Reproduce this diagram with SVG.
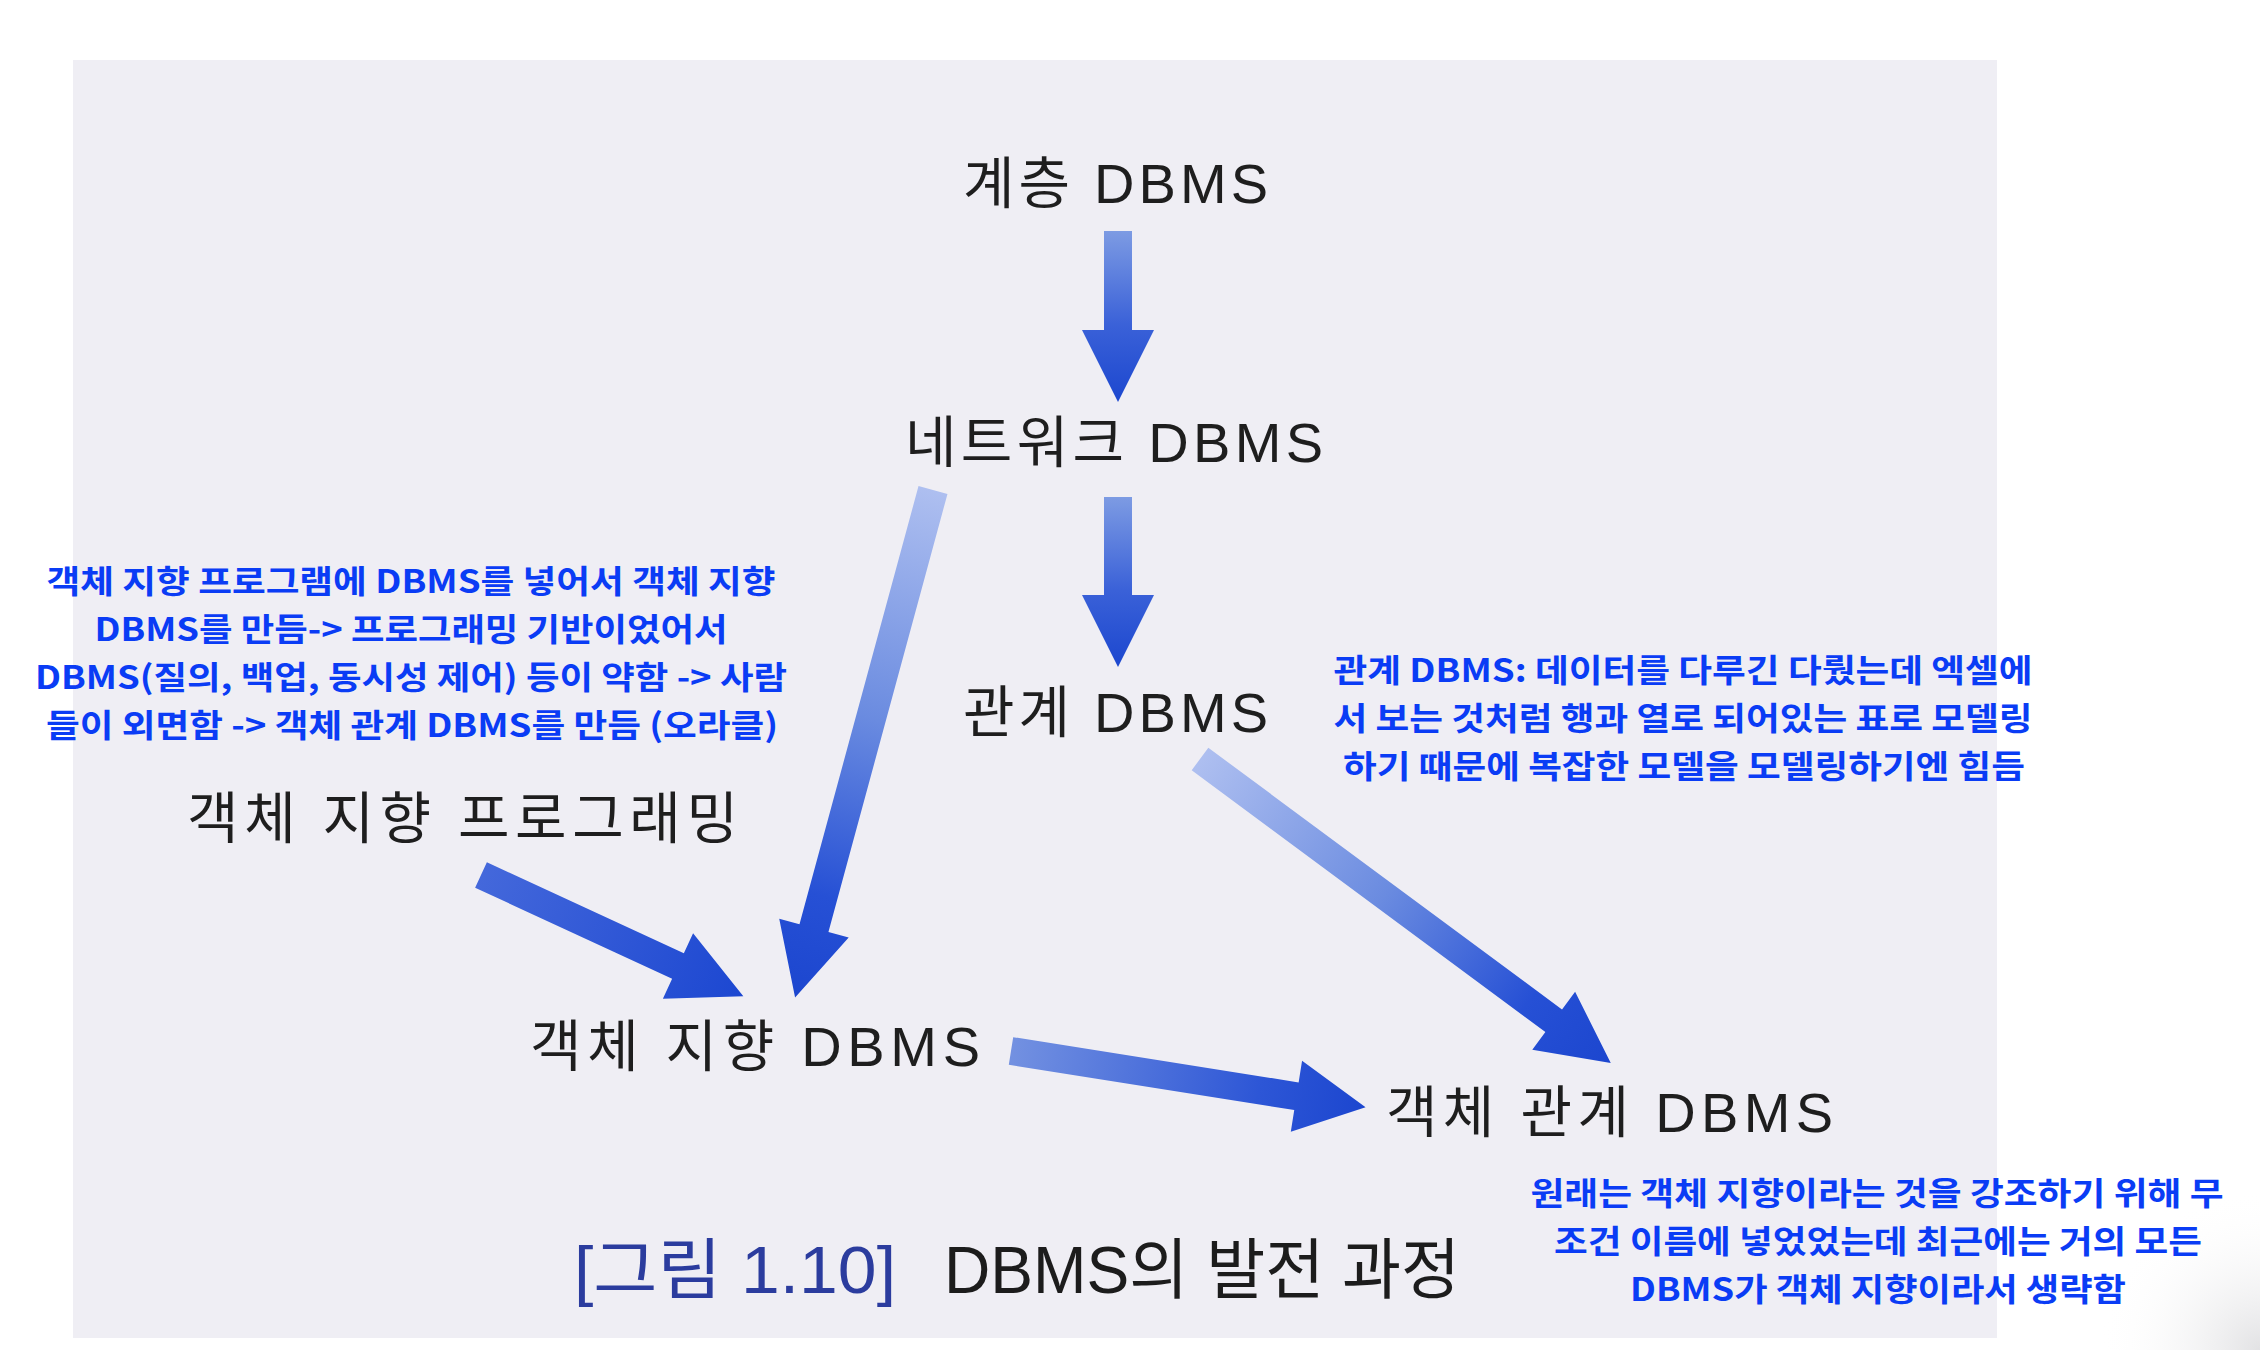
<svg xmlns="http://www.w3.org/2000/svg" width="2260" height="1350" viewBox="0 0 2260 1350">
  <defs>
    <style>
      .node { font-family: 'Liberation Sans', 'Noto Sans CJK KR', sans-serif; font-size: 56px; fill: #1e1e1e; }
      .note { font-family: 'Noto Sans CJK KR', sans-serif; font-weight: 700; font-size: 32px; fill: #0a3cf5; text-anchor: middle; }
      .cap { font-family: 'Liberation Sans', 'Noto Sans CJK KR', sans-serif; font-size: 66px; }
    </style>
    <linearGradient id="gV" x1="0" y1="0" x2="1" y2="0">
      <stop offset="0" stop-color="#7d9be3"/>
      <stop offset="0.55" stop-color="#3a61d8"/>
      <stop offset="1" stop-color="#1c47cf"/>
    </linearGradient>
    <linearGradient id="gLong" x1="0" y1="0" x2="1" y2="0">
      <stop offset="0" stop-color="#aebff0"/>
      <stop offset="0.45" stop-color="#6a8be0"/>
      <stop offset="0.8" stop-color="#2650d5"/>
      <stop offset="1" stop-color="#1c46cf"/>
    </linearGradient>
    <linearGradient id="gProg" x1="0" y1="0" x2="1" y2="0">
      <stop offset="0" stop-color="#4468db"/>
      <stop offset="1" stop-color="#1c47d1"/>
    </linearGradient>
    <linearGradient id="gOO" x1="0" y1="0" x2="1" y2="0">
      <stop offset="0" stop-color="#7391e1"/>
      <stop offset="0.7" stop-color="#2d56d6"/>
      <stop offset="1" stop-color="#1c46cf"/>
    </linearGradient>
    <radialGradient id="corner" cx="2260" cy="1350" r="160" gradientUnits="userSpaceOnUse">
      <stop offset="0" stop-color="#e2e2e4"/>
      <stop offset="1" stop-color="#ffffff" stop-opacity="0"/>
    </radialGradient>
  </defs>

  <rect x="0" y="0" width="2260" height="1350" fill="#ffffff"/>
  <rect x="2060" y="1150" width="200" height="200" fill="url(#corner)"/>
  <rect x="73" y="60" width="1924" height="1278" fill="#efeef4"/>

  <g id="connectors">
    <path d="M0,-14 H99 V-36 L171,0 L99,36 V14 H0 Z" fill="url(#gV)" transform="translate(1118,231) rotate(90)"/>
    <path d="M0,-14 H98 V-36 L170,0 L98,36 V14 H0 Z" fill="url(#gV)" transform="translate(1118,497) rotate(90)"/>
    <path d="M0,-15 H454 V-36 L526,0 L454,36 V15 H0 Z" fill="url(#gLong)" transform="translate(933,490) rotate(105.2)"/>
    <path d="M0,-14 H217 V-36 L289,0 L217,36 V14 H0 Z" fill="url(#gProg)" transform="translate(481,875) rotate(24.8)"/>
    <path d="M0,-14 H289 V-36 L359,0 L289,36 V14 H0 Z" fill="url(#gOO)" transform="translate(1011,1051) rotate(9)"/>
    <path d="M0,-14 H440 V-36 L511,0 L440,36 V14 H0 Z" fill="url(#gLong)" transform="translate(1200,759) rotate(36.5)"/>
  </g>

  <g id="node-hierarchical">
    <text class="node" x="963" y="203" textLength="305" lengthAdjust="spacing">계층 DBMS</text>
  </g>
  <g id="node-network">
    <text class="node" x="905" y="462" textLength="418" lengthAdjust="spacing">네트워크 DBMS</text>
  </g>
  <g id="node-relational">
    <text class="node" x="963" y="732" textLength="305" lengthAdjust="spacing">관계 DBMS</text>
  </g>
  <g id="node-oo-programming">
    <text class="node" x="187" y="838" textLength="551" lengthAdjust="spacing">객체 지향 프로그래밍</text>
  </g>
  <g id="node-oo-dbms">
    <text class="node" x="530" y="1066" textLength="450" lengthAdjust="spacing">객체 지향 DBMS</text>
  </g>
  <g id="node-or-dbms">
    <text class="node" x="1386" y="1132" textLength="447" lengthAdjust="spacing">객체 관계 DBMS</text>
  </g>

  <g id="caption">
    <text class="cap" x="574" y="1293" fill="#2b3c9e" textLength="322" lengthAdjust="spacingAndGlyphs">[그림 1.10]</text>
    <text class="cap" x="944" y="1293" fill="#1c1c1c" textLength="516" lengthAdjust="spacingAndGlyphs">DBMS의 발전 과정</text>
  </g>

  <g id="note-oo">
    <text class="note" x="411" y="593" textLength="729" lengthAdjust="spacingAndGlyphs">객체 지향 프로그램에 DBMS를 넣어서 객체 지향</text>
    <text class="note" x="411" y="641" textLength="633" lengthAdjust="spacingAndGlyphs">DBMS를 만듬-&gt; 프로그래밍 기반이었어서</text>
    <text class="note" x="411" y="689" textLength="752" lengthAdjust="spacingAndGlyphs">DBMS(질의, 백업, 동시성 제어) 등이 약함 -&gt; 사람</text>
    <text class="note" x="412" y="737" textLength="732" lengthAdjust="spacingAndGlyphs">들이 외면함 -&gt; 객체 관계 DBMS를 만듬 (오라클)</text>
  </g>
  <g id="note-relational">
    <text class="note" x="1683" y="682" textLength="699" lengthAdjust="spacingAndGlyphs">관계 DBMS: 데이터를 다루긴 다뤘는데 엑셀에</text>
    <text class="note" x="1683" y="730" textLength="699" lengthAdjust="spacingAndGlyphs">서 보는 것처럼 행과 열로 되어있는 표로 모델링</text>
    <text class="note" x="1684" y="778" textLength="682" lengthAdjust="spacingAndGlyphs">하기 때문에 복잡한 모델을 모델링하기엔 힘듬</text>
  </g>
  <g id="note-or">
    <text class="note" x="1877" y="1205" textLength="693" lengthAdjust="spacingAndGlyphs">원래는 객체 지향이라는 것을 강조하기 위해 무</text>
    <text class="note" x="1878" y="1253" textLength="648" lengthAdjust="spacingAndGlyphs">조건 이름에 넣었었는데 최근에는 거의 모든</text>
    <text class="note" x="1878" y="1301" textLength="496" lengthAdjust="spacingAndGlyphs">DBMS가 객체 지향이라서 생략함</text>
  </g>
</svg>
